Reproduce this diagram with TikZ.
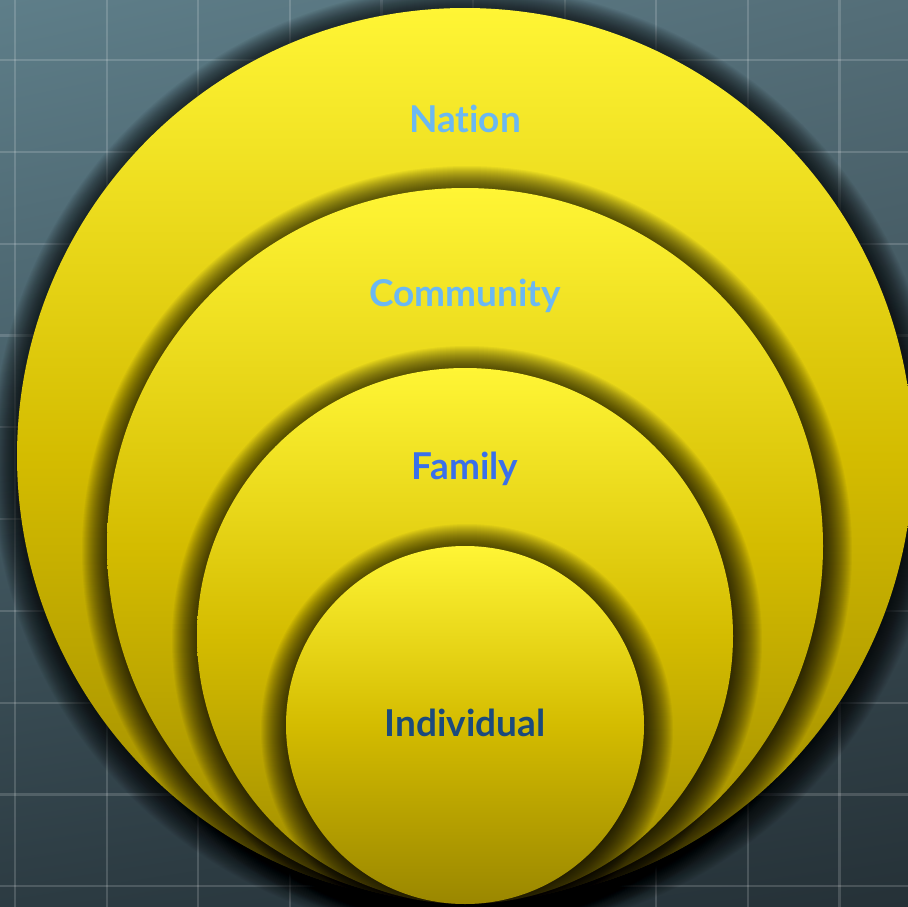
\documentclass[tikz,border=0pt]{standalone}
\usepackage{fontspec}
\setmainfont{Lato}[Ligatures=CommonOff]
\usetikzlibrary{positioning,shadings}

\definecolor{bgtl}{HTML}{5E7E89}
\definecolor{bgtr}{HTML}{546E78}
\definecolor{bgbl}{HTML}{2C3B42}
\definecolor{bgbr}{HTML}{253137}
\definecolor{ringtop}{HTML}{FFF535}
\definecolor{ringmid}{HTML}{D4BC00}
\definecolor{ringbot}{HTML}{9A8700}
\definecolor{lightblue}{HTML}{6BB8F2}
\definecolor{midblue}{HTML}{3A70EA}
\definecolor{darkblue}{HTML}{1B4A7C}

\begin{document}
\begin{tikzpicture}[x=1pt,y=-1pt,
						ring/.style={circle,inner sep=0pt,outer sep=0pt,top color=ringtop,bottom color=ringbot,middle color=ringmid},
						haze/.style={black,fill opacity=0.04},
						word/.style={inner sep=0pt,font=\fontsize{37}{40}\selectfont\bfseries},
						grid/.style={white,opacity=0.16,line width=2.2pt}]
		\useasboundingbox (0,0) rectangle (908,907);
		\shade[upper left=bgtl,upper right=bgtr,lower left=bgbl,lower right=bgbr] (0,0) rectangle (908,907);
		\foreach \i in {0,...,9} {
			\draw[grid] (15+91.6*\i,0) -- (15+91.6*\i,907);
			\draw[grid] (0,60+91.8*\i) -- (908,60+91.8*\i);
		}

		\foreach \name/\r/\y in {nation/448/456,community/358/546,family/268/636,individual/179/725} {
			\foreach \k in {1,...,32}
				\fill[haze] (467,\y+5) circle (\r+28-\k);
			\node[ring,minimum size=2*\r pt]	(\name)	at (465,\y)	{};
		}

		\node[word,text=lightblue,below=124pt of nation.north,anchor=base]		(nationtxt)		{Nation};
		\node[word,text=lightblue,below=118pt of community.north,anchor=base]	(communitytxt)	{Community};
		\node[word,text=midblue,below=111pt of family.north,anchor=base]		(familytxt)		{Family};
		\node[word,text=darkblue,below=190pt of individual.north,anchor=base]	(individualtxt)	{Individual};
	\end{tikzpicture}
\end{document}
